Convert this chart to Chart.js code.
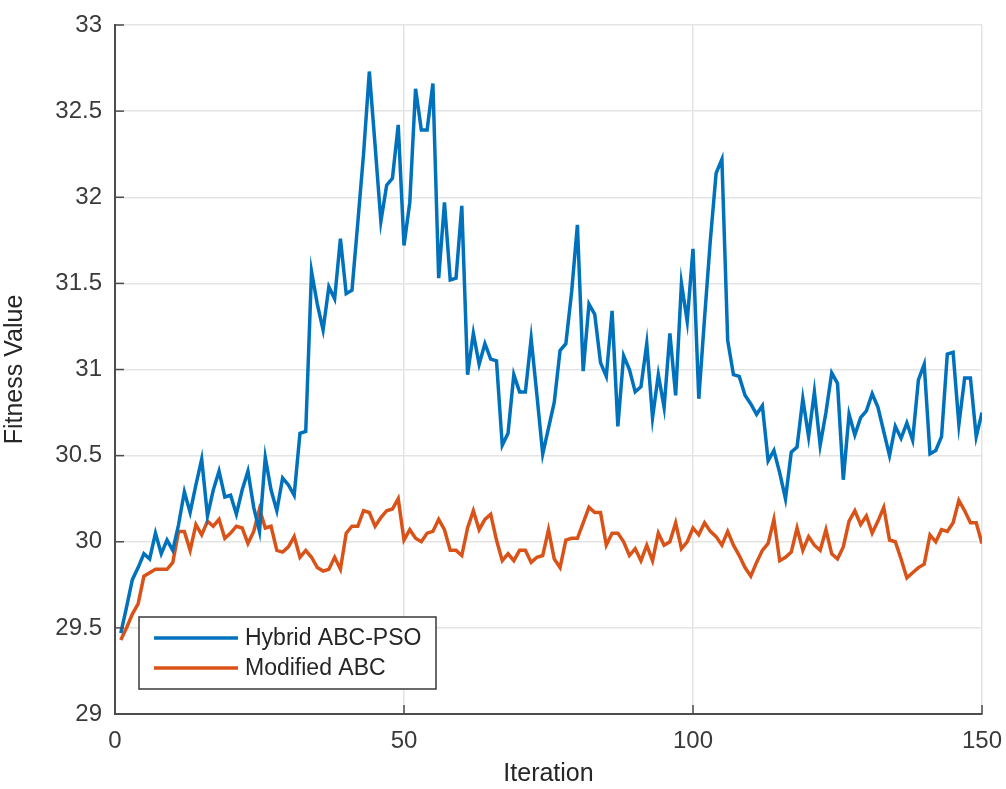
<!DOCTYPE html>
<html><head><meta charset="utf-8">
<script src="https://cdn.jsdelivr.net/npm/chart.js@4"></script>
<style>html,body{margin:0;padding:0;background:#fff}#wrap{width:1006px;height:789px}</style>
</head><body><div id="wrap"><canvas id="c" width="1006" height="789"></canvas></div>
<script>
const seriesNames = ['Hybrid ABC-PSO', 'Modified ABC'];
const hybridABCPSO = [
29.47,29.62,29.78,29.85,29.93,29.90,30.05,29.93,30.01,29.95,
30.10,30.29,30.17,30.33,30.48,30.15,30.30,30.41,30.26,30.27,
30.16,30.30,30.41,30.20,30.06,30.49,30.30,30.18,30.37,30.33,
30.27,30.63,30.64,31.57,31.38,31.23,31.48,31.41,31.76,31.44,
31.46,31.85,32.25,32.73,32.30,31.86,32.07,32.11,32.42,31.72,
31.97,32.63,32.39,32.39,32.66,31.53,31.97,31.52,31.53,31.95,
30.97,31.21,31.03,31.15,31.06,31.05,30.56,30.63,30.97,30.87,
30.87,31.18,30.85,30.51,30.66,30.81,31.11,31.15,31.45,31.84,
30.99,31.38,31.32,31.04,30.96,31.34,30.67,31.08,31.00,30.87,
30.90,31.15,30.72,30.97,30.78,31.21,30.85,31.50,31.28,31.70,
30.83,31.30,31.75,32.14,32.22,31.17,30.97,30.96,30.85,30.80,
30.74,30.79,30.47,30.53,30.40,30.25,30.52,30.55,30.83,30.61,
30.87,30.56,30.75,30.98,30.92,30.36,30.74,30.62,30.72,30.76,
30.86,30.78,30.64,30.50,30.67,30.60,30.69,30.59,30.94,31.03,
30.51,30.53,30.61,31.09,31.10,30.68,30.95,30.95,30.61,30.75
];
const modifiedABC = [
29.43,29.50,29.58,29.64,29.80,29.82,29.84,29.84,29.84,29.88,
30.06,30.06,29.95,30.10,30.04,30.12,30.09,30.13,30.02,30.05,
30.09,30.08,29.99,30.06,30.19,30.08,30.09,29.95,29.94,29.97,
30.03,29.91,29.95,29.91,29.85,29.83,29.84,29.91,29.84,30.05,
30.09,30.09,30.18,30.17,30.09,30.14,30.18,30.19,30.25,30.01,
30.07,30.02,30.00,30.05,30.06,30.13,30.07,29.95,29.95,29.92,
30.08,30.18,30.07,30.13,30.16,30.01,29.89,29.93,29.89,29.95,
29.95,29.88,29.91,29.92,30.07,29.90,29.85,30.01,30.02,30.02,
30.11,30.20,30.17,30.17,29.98,30.05,30.05,30.00,29.92,29.96,
29.89,29.98,29.89,30.05,29.98,30.00,30.11,29.96,30.00,30.08,
30.04,30.11,30.06,30.03,29.98,30.06,29.98,29.92,29.85,29.80,
29.88,29.95,29.99,30.13,29.89,29.91,29.94,30.08,29.95,30.03,
29.98,29.95,30.07,29.93,29.90,29.97,30.12,30.18,30.10,30.15,
30.05,30.12,30.20,30.01,30.00,29.90,29.79,29.82,29.85,29.87,
30.04,30.00,30.07,30.06,30.11,30.24,30.18,30.11,30.11,29.99
];
const xTickValues = [0, 50, 100, 150];
const yTickValues = [29, 29.5, 30, 30.5, 31, 31.5, 32, 32.5, 33];
const xTitle = 'Iteration';
const yTitle = 'Fitness Value';
const seriesColors = ['#0072BD', '#D95319'];

const iterations = hybridABCPSO.map((_, i) => i + 1);
const toPoints = arr => arr.map((v, i) => ({x: iterations[i], y: v}));

const FONT = 'Liberation Sans, Arial, Helvetica, sans-serif';

const matlabDecor = {
  id: 'matlabDecor',
  afterDatasetsDraw(chart) {
    const ctx = chart.ctx, a = chart.chartArea;
    const xs = chart.scales.x, ys = chart.scales.y;
    ctx.save();
    ctx.strokeStyle = '#4d4d4d'; ctx.lineWidth = 1.5;
    xs.ticks.forEach(t => {
      const px = xs.getPixelForValue(t.value);
      ctx.beginPath(); ctx.moveTo(px, a.bottom); ctx.lineTo(px, a.bottom - 9); ctx.stroke();
    });
    ys.ticks.forEach(t => {
      const py = ys.getPixelForValue(t.value);
      ctx.beginPath(); ctx.moveTo(a.left, py); ctx.lineTo(a.left + 9, py); ctx.stroke();
    });
    const bx = a.left + 24, by = a.bottom - 97, bw = 297, bh = 72;
    ctx.fillStyle = '#ffffff'; ctx.fillRect(bx, by, bw, bh);
    ctx.strokeStyle = '#3a3a3a'; ctx.lineWidth = 1.5; ctx.strokeRect(bx, by, bw, bh);
    ctx.font = '23px ' + FONT; ctx.textBaseline = 'middle'; ctx.textAlign = 'left';
    chart.data.datasets.forEach((ds, i) => {
      const cy = by + 21 + i * 30;
      ctx.strokeStyle = ds.borderColor; ctx.lineWidth = 3.5;
      ctx.beginPath(); ctx.moveTo(bx + 15, cy); ctx.lineTo(bx + 99, cy); ctx.stroke();
      ctx.fillStyle = '#262626';
      ctx.fillText(ds.label, bx + 106, cy + 1);
    });
    ctx.restore();
  }
};

new Chart(document.getElementById('c'), {
  type: 'line',
  data: {
    datasets: [
      {label: seriesNames[0], data: toPoints(hybridABCPSO), borderColor: seriesColors[0], backgroundColor: seriesColors[0], borderWidth: 3.5, pointRadius: 0, tension: 0, fill: false},
      {label: seriesNames[1], data: toPoints(modifiedABC), borderColor: seriesColors[1], backgroundColor: seriesColors[1], borderWidth: 3.5, pointRadius: 0, tension: 0, fill: false}
    ]
  },
  options: {
    responsive: false,
    animation: false,
    devicePixelRatio: 1,
    layout: {padding: {top: 25, right: 24, left: 0, bottom: 0}},
    plugins: {legend: {display: false}, tooltip: {enabled: false}},
    scales: {
      x: {
        type: 'linear', min: 0, max: 150,
        afterBuildTicks: s => { s.ticks = xTickValues.map(v => ({value: v})); },
        afterFit: s => { s.height = 75; s.paddingLeft = 0; s.paddingRight = 0; },
        grid: {color: '#e4e4e4', lineWidth: 1.5, drawTicks: false},
        border: {display: true, color: '#4d4d4d', width: 2},
        ticks: {padding: 13, color: '#3a3a3a', font: {family: FONT, size: 24}, maxRotation: 0, callback: v => String(v)},
        title: {display: true, text: xTitle, color: '#262626', font: {family: FONT, size: 25}, padding: {top: 3, bottom: 0}}
      },
      y: {
        type: 'linear', min: 29, max: 33,
        afterBuildTicks: s => { s.ticks = yTickValues.map(v => ({value: v})); },
        afterFit: s => { s.width = 115; s.paddingTop = 0; s.paddingBottom = 0; },
        grid: {color: '#e4e4e4', lineWidth: 1.5, drawTicks: false},
        border: {display: true, color: '#4d4d4d', width: 2},
        ticks: {padding: 13, color: '#3a3a3a', font: {family: FONT, size: 24}, callback: v => String(v)},
        title: {display: true, text: yTitle, color: '#262626', font: {family: FONT, size: 25}, padding: {top: 0, bottom: 4}}
      }
    }
  },
  plugins: [matlabDecor]
});
</script>
</body></html>
